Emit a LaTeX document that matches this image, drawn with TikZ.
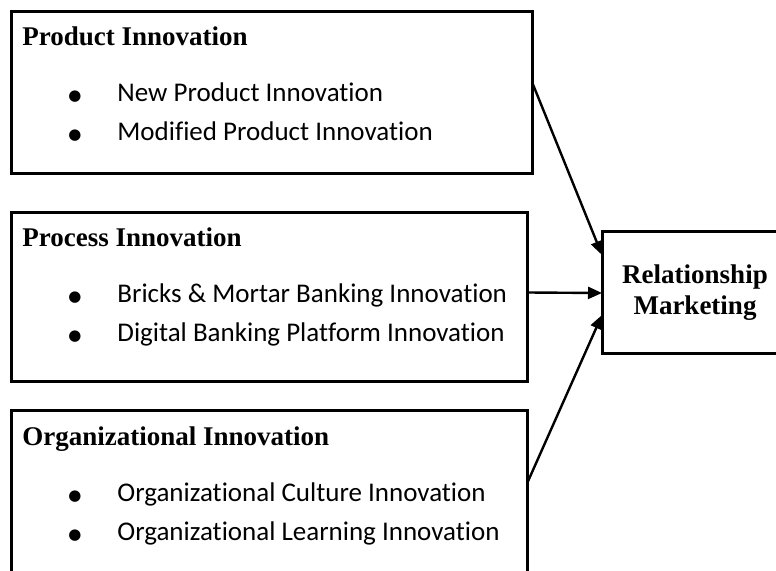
\documentclass[tikz,border=0pt]{standalone}
\usepackage{fontspec}
\setmainfont{Liberation Serif}
\newfontfamily\bodyfont[Ligatures={NoCommon,NoDiscretionary}]{Carlito}
\newfontfamily\markfont{DejaVu Sans}
\usetikzlibrary{arrows.meta}

\begin{document}
\begin{tikzpicture}[
                x=0.5pt, y=-0.5pt,
                frame/.style={draw=black, line width=1.5pt, inner sep=0pt, outer sep=0pt},
                heading/.style={font=\fontsize{13.5}{15.5}\selectfont\bfseries, inner sep=0pt, anchor=base west},
                entry/.style={font=\bodyfont\fontsize{13.5}{16}\selectfont, inner sep=0pt, anchor=base west},
                dot/.style={font=\markfont\fontsize{7.5}{8}\selectfont, inner sep=0pt, anchor=base},
                link/.style={draw=black, line width=1.2pt, -{Triangle[length=7pt, width=6pt]}}]
        \useasboundingbox (0,0) rectangle (776,571);

        % Innovation dimensions: name/top/width/height/heading/first item/second item.
        \foreach \n/\t/\w/\h/\head/\itemA/\itemB in {%
                prod/12/521/162/Product Innovation/New Product Innovation/Modified Product Innovation,%
                proc/213/516/169/Process Innovation/Bricks \& Mortar Banking Innovation/Digital Banking Platform Innovation,%
                org/411/516/169/Organizational Innovation/Organizational Culture Innovation/Organizational Learning Innovation} {
                \node[frame, anchor=north west, minimum width=\w*0.5pt, minimum height=\h*0.5pt] (\n) at (11,\t) {};
                \node[heading] (\n-head) at (22,\t+34) {\head};
                \node[dot] (\n-dotA) at (75,\t+89) {●};
                \node[entry] (\n-itemA) at (117,\t+90) {\itemA};
                \node[dot] (\n-dotB) at (75,\t+128) {●};
                \node[entry] (\n-itemB) at (117,\t+129) {\itemB};
        }

        % Outcome box, running off the right edge.
        \node[frame, heading, anchor=center, align=center, minimum width=93pt, minimum height=61pt]
                (rm) at (695,293) {Relationship\\Marketing};

        % Links into relationship marketing.
        \draw[link] ([yshift=5.5pt]prod.east) -- ([yshift=19pt]rm.west);
        \draw[link] ([yshift=2.5pt]proc.east) -- (rm.west);
        \draw[link] ([yshift=6pt]org.east) -- ([yshift=-11pt]rm.west);
\end{tikzpicture}
\end{document}
